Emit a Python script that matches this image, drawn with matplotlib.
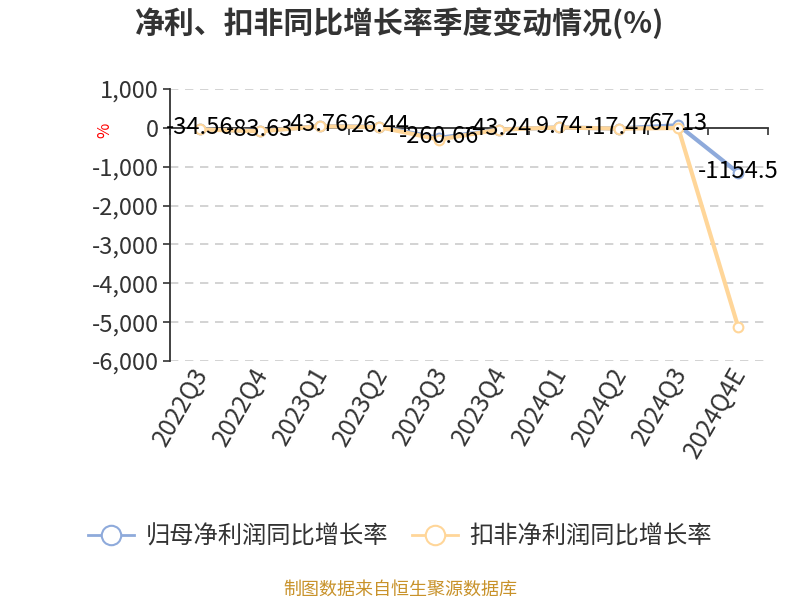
import matplotlib
matplotlib.use("Agg")
import matplotlib.pyplot as plt
from matplotlib.ticker import FuncFormatter
from matplotlib.lines import Line2D
import matplotlib.transforms as mtransforms

plt.rcParams['font.family'] = ['Noto Sans CJK SC', 'DejaVu Sans']

categories = ["2022Q3", "2022Q4", "2023Q1", "2023Q2", "2023Q3", "2023Q4",
              "2024Q1", "2024Q2", "2024Q3", "2024Q4E"]
net_profit_yoy = [-34.56, -83.63, 43.76, 26.44, -260.66, -43.24, 9.74, -17.47, 67.13, -1154.5]
deducted_yoy = [-40, -90, 40, 20, -300, -45, 10, -20, -5, -5120]
net_labels = ["-34.56", "-83.63", "43.76", "26.44", "-260.66", "-43.24", "9.74", "-17.47", "67.13", "-1154.5"]
yticks = [1000, 0, -1000, -2000, -3000, -4000, -5000, -6000]
series_names = ["归母净利润同比增长率", "扣非净利润同比增长率"]

blue = "#8eaadb"
orange = "#ffd699"
dark = "#333333"

fig = plt.figure(figsize=(8, 6), dpi=100)
ax = fig.add_axes([0.2125, 0.3983, 0.7475, 0.4534])

x = list(range(len(categories)))
ax.plot(x, net_profit_yoy, color=blue, lw=3, marker='o', ms=7, mfc='white',
        mec=blue, mew=1.5, zorder=3)
ax.plot(x, deducted_yoy, color=orange, lw=3, marker='o', ms=7, mfc='white',
        mec=orange, mew=1.5, zorder=4)

for xi, v, lab in zip(x, net_profit_yoy, net_labels):
    ax.annotate(lab, (xi, v), xytext=(0, 1), textcoords='offset points',
                ha='center', va='center', fontsize=17, color='black', zorder=6)

ax.set_xlim(-0.5, len(categories) - 0.5)
ax.set_ylim(-6000, 1000)
ax.set_yticks(yticks)
ax.yaxis.set_major_formatter(FuncFormatter(lambda v, p: f"{int(v):,}"))
ax.tick_params(axis='y', labelsize=17, labelcolor=dark, color=dark, length=5, width=1.2, pad=3)

for y in yticks:
    if y != 0:
        ax.axhline(y, color='#cccccc', lw=1.2, ls=(0, (5, 4)), zorder=1)

ax.spines['top'].set_visible(False)
ax.spines['right'].set_visible(False)
ax.spines['left'].set_color(dark)
ax.spines['left'].set_linewidth(1.3)
ax.spines['bottom'].set_position(('data', 0))
ax.spines['bottom'].set_color(dark)
ax.spines['bottom'].set_linewidth(1.3)
ax.set_xticks([i + 0.5 for i in range(-1, len(categories))])
ax.set_xticklabels([])
ax.tick_params(axis='x', direction='out', length=5, width=1.2, color=dark)

trans = mtransforms.blended_transform_factory(ax.transData, ax.transAxes)
for xi, c in zip(x, categories):
    ax.text(xi + 0.05, -0.03, c, transform=trans, rotation=60, rotation_mode='anchor',
            ha='right', va='center', fontsize=17.5, color=dark)

fig.text(0.131, 0.783, "%", color='red', fontsize=12, rotation=90, ha='center', va='center')

fig.text(0.5, 0.962, "净利、扣非同比增长率季度变动情况(%)", ha='center', va='center',
         fontsize=21.5, fontweight='bold', color=dark)

handles = [Line2D([], [], color=c, lw=2, marker='o', ms=14, mfc='white', mec=c, mew=1.5)
           for c in (blue, orange)]
leg = fig.legend(handles, series_names, loc='center', bbox_to_anchor=(0.5, 0.105), ncol=2,
                 frameon=False, fontsize=17.5, handlelength=1.9, columnspacing=1.0,
                 handletextpad=0.45)
for t in leg.get_texts():
    t.set_color(dark)

fig.text(0.5, 0.018, "制图数据来自恒生聚源数据库", ha='center', va='center',
         fontsize=13, color='#c8922a')

fig.savefig("out.png", dpi=100)
